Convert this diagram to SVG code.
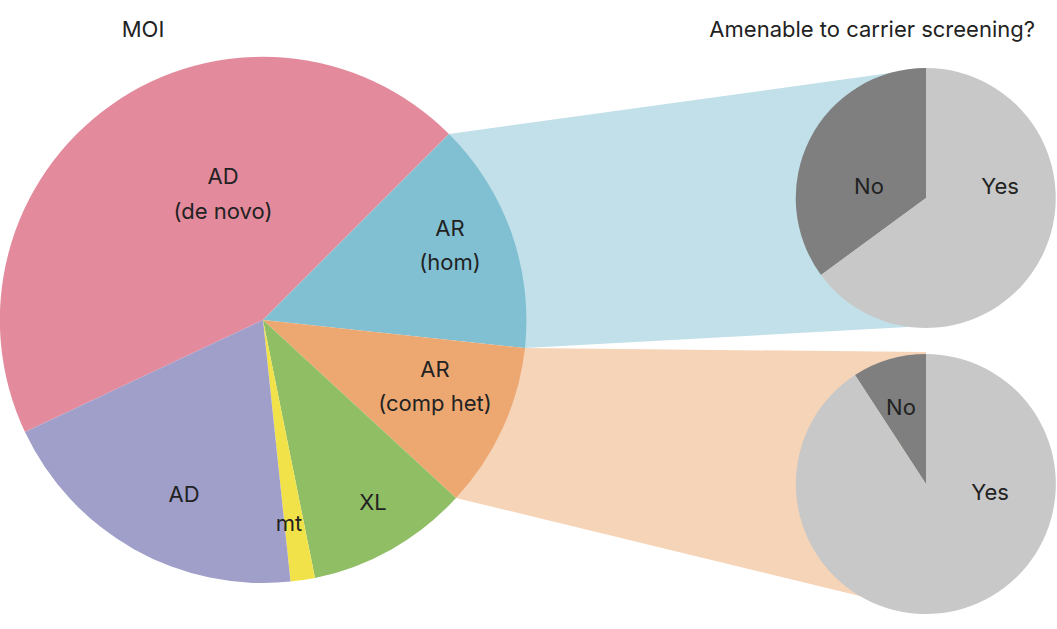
<svg xmlns="http://www.w3.org/2000/svg" width="1057" height="629" viewBox="0 0 1057 629">
<style>
text{font-family:"Inter","Liberation Sans",sans-serif;font-size:22px;fill:#222;text-anchor:middle}
</style>
<rect width="1057" height="629" fill="#fff"/>
<g id="connectors">
<polygon points="449,134 926,68 926,326 525,348" fill="#c2e0ea"/>
<polygon points="525,348 926,352 926,612 456,498" fill="#f6d4b8"/>
</g>
<g id="main-pie">
<path d="M263,320 L25,432 A263,263 0 0 1 449,134 Z" fill="#e38a9c"/>
<path d="M263,320 L449,134 A263,263 0 0 1 525,348 Z" fill="#80c0d2"/>
<path d="M263,320 L525,348 A263,263 0 0 1 456,498 Z" fill="#eda872"/>
<path d="M263,320 L456,498 A263,263 0 0 1 315,578 Z" fill="#90be64"/>
<path d="M263,320 L315,578 A263,263 0 0 1 290.5,581.6 Z" fill="#f2e24a"/>
<path d="M263,320 L290.5,581.6 A263,263 0 0 1 25,432 Z" fill="#a09fca"/>
</g>
<g id="pie-hom">
<path d="M926,198 L926,68 A130,130 0 0 0 821,275 Z" fill="#7f7f7f"/>
<path d="M926,198 L821,275 A130,130 0 1 0 926,68 Z" fill="#c8c8c8"/>
</g>
<g id="pie-comphet">
<path d="M926,484 L926,354 A130,130 0 0 0 855,375 Z" fill="#7f7f7f"/>
<path d="M926,484 L855,375 A130,130 0 1 0 926,354 Z" fill="#c8c8c8"/>
</g>
<g id="labels">
<text x="143" y="37">MOI</text>
<text x="1035" y="37" style="text-anchor:end">Amenable to carrier screening?</text>
<text x="223" y="184">AD</text>
<text x="223" y="219">(de novo)</text>
<text x="450" y="236">AR</text>
<text x="450" y="270">(hom)</text>
<text x="435" y="377">AR</text>
<text x="435" y="411">(comp het)</text>
<text x="184" y="502">AD</text>
<text x="289" y="531">mt</text>
<text x="373" y="510">XL</text>
<text x="869" y="194">No</text>
<text x="1000" y="194">Yes</text>
<text x="901" y="415">No</text>
<text x="990" y="500">Yes</text>
</g>
</svg>
